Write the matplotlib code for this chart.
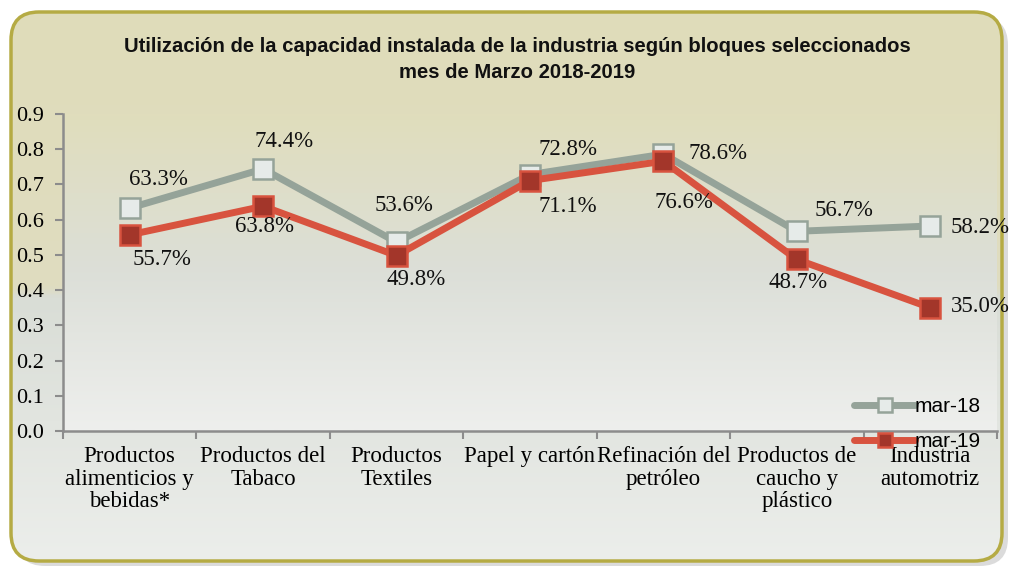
import numpy as np
import matplotlib.pyplot as plt
from matplotlib.patches import FancyBboxPatch
from matplotlib.colors import LinearSegmentedColormap

# datos
categorias = ['Productos\nalimenticios y\nbebidas*', 'Productos del\nTabaco', 'Productos\nTextiles',
              'Papel y cartón', 'Refinación del\npetróleo', 'Productos de\ncaucho y\nplástico',
              'Industria\nautomotriz']
mar18 = [0.633, 0.744, 0.536, 0.728, 0.786, 0.567, 0.582]
mar19 = [0.557, 0.638, 0.498, 0.711, 0.766, 0.487, 0.350]

serif = 'Liberation Serif'
W, H = 1012, 569

fig = plt.figure(figsize=(10.12, 5.69), dpi=100)

# fondo con degradado dentro de caja redondeada
bg = fig.add_axes([0, 0, 1, 1])
bg.set_xlim(0, W)
bg.set_ylim(H, 0)
bg.axis('off')
sombra = FancyBboxPatch((17, 17), 991, 549, boxstyle='round,pad=0,rounding_size=28',
                        facecolor='#c4c4c4', edgecolor='none', alpha=0.6)
bg.add_patch(sombra)
caja = FancyBboxPatch((11, 12), 991, 549, boxstyle='round,pad=0,rounding_size=28',
                      facecolor='none', edgecolor='#b5ab44', linewidth=2.5, zorder=3)
bg.add_patch(caja)
cmap = LinearSegmentedColormap.from_list('f', [(0, '#e0ddba'), (0.5, '#dfdcc0'), (0.52, '#d9ddd6'),
                                              (1, '#eceeeb')])
img = bg.imshow(np.linspace(0, 1, 400).reshape(-1, 1), cmap=cmap, extent=[11, 1002, 561, 12],
                aspect='auto', zorder=1)
img.set_clip_path(caja)

ax = fig.add_axes([63 / W, 1 - 431 / H, (997 - 63) / W, (431 - 114) / H])
ax.set_facecolor('none')
cmap2 = LinearSegmentedColormap.from_list('p', ['#e0ddbc', '#dcdfd8', '#eeefed'])
ax.imshow(np.linspace(0, 1, 300).reshape(-1, 1), cmap=cmap2, extent=[-0.5, 6.5, 0, 0.9],
          aspect='auto', zorder=0)

x = np.arange(len(categorias))
ax.plot(x, mar18, color='#95a399', lw=5, marker='s', ms=14, mfc='#e6ebe9', mec='#95a399',
        mew=1.8, label='mar-18', zorder=3, solid_capstyle='round')
ax.plot(x, mar19, color='#d8533f', lw=5, marker='s', ms=14, mfc='#a3362a', mec='#d8533f',
        mew=1.8, label='mar-19', zorder=4, solid_capstyle='round')

# etiquetas de datos (desplazamiento en pixeles)
off18 = [(29, 29), (21, 27), (7, 37), (38, 25), (55, 1), (47, 21), (50, -1)]
off19 = [(32, -25), (1, -20), (20, -24), (38, -26), (21, -41), (1, -23), (50, 1)]
for i in range(len(x)):
    ax.annotate(f'{mar18[i] * 100:.1f}%', (x[i], mar18[i]), xytext=off18[i], textcoords='offset pixels',
                ha='center', va='center', fontsize=16.5, family=serif, color='#111111', zorder=5)
    ax.annotate(f'{mar19[i] * 100:.1f}%', (x[i], mar19[i]), xytext=off19[i], textcoords='offset pixels',
                ha='center', va='center', fontsize=16.5, family=serif, color='#111111', zorder=5)

ax.set_xlim(-0.5, 6.5)
ax.set_ylim(0, 0.9)
ax.set_yticks(np.arange(0, 0.91, 0.1))
ax.set_yticklabels([f'{v:.1f}' for v in np.arange(0, 0.91, 0.1)], family=serif, fontsize=16)
ax.set_xticks(x)
ax.set_xticklabels(categorias, family=serif, fontsize=16.5, linespacing=1.1)
ax.set_xticks(np.arange(-0.5, 7, 1), minor=True)
ax.tick_params(axis='x', which='major', length=0, pad=11)
ax.tick_params(axis='x', which='minor', length=6, width=1.5, color='#8c8c8c')
ax.tick_params(axis='y', length=6, width=1.5, color='#8c8c8c', pad=8)
for s in ['top', 'right']:
    ax.spines[s].set_visible(False)
for s in ['left', 'bottom']:
    ax.spines[s].set_color('#8c8c8c')
    ax.spines[s].set_linewidth(1.8)

leg = ax.legend(loc='center left', bbox_to_anchor=(846 / W, 1 - 424 / H), bbox_transform=fig.transFigure,
                frameon=False, prop={'family': 'Liberation Sans', 'size': 15}, labelspacing=0.75,
                handlelength=2.9, handletextpad=0.0, borderaxespad=0, markerscale=0.7)
leg.set_zorder(10)

fig.text(517 / W, 1 - 47 / H, 'Utilización de la capacidad instalada de la industria según bloques seleccionados',
         ha='center', va='center', fontsize=14.6, fontweight='bold', family='Liberation Sans', color='#111111')
fig.text(517 / W, 1 - 72 / H, 'mes de Marzo 2018-2019', ha='center', va='center', fontsize=14.6,
         fontweight='bold', family='Liberation Sans', color='#111111')

fig.savefig('out.png', dpi=100)
